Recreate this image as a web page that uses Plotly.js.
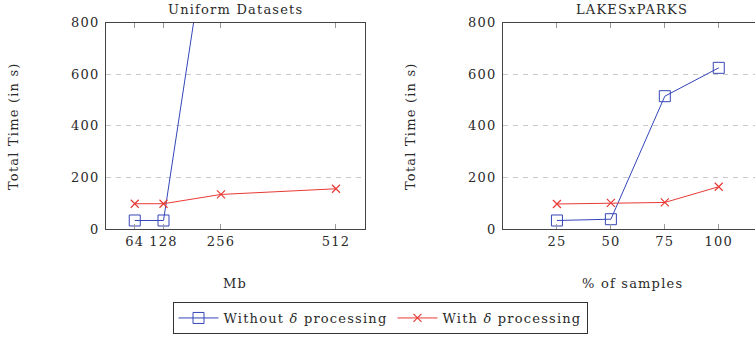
<!DOCTYPE html>
<html>
<head>
<meta charset="utf-8">
<script src="https://cdn.plot.ly/plotly-3.0.1.min.js"></script>
<style>
  html, body { margin: 0; padding: 0; background: #fff; overflow: hidden; }
  #chart { width: 755px; height: 339px; }
  svg text { letter-spacing: 1.2px; }
</style>
</head>
<body>
<div id="chart"></div>
<script>
// Left panel: Uniform Datasets
const uniformSizesMb = [64, 128, 256, 512];
const uniformWithout = [33, 33, 1500, 6000];
const uniformWith = [98, 98, 134, 156];

// Right panel: LAKESxPARKS
const samplePercents = [25, 50, 75, 100];
const lakesWithout = [33, 38, 515, 625];
const lakesWith = [97, 101, 103, 164];

const leftTitle = 'Uniform Datasets';
const rightTitle = 'LAKESxPARKS';
const leftXTitle = 'Mb';
const rightXTitle = '% of samples';
const yTitle = 'Total Time (in s)';
const seriesNames = ['Without <i>δ</i> processing', 'With <i>δ</i> processing'];
const yTicks = [0, 200, 400, 600, 800];

const BLUE = '#3446b8';
const RED = '#e83a35';
const FONT = 'DejaVu Serif, serif';
const FS = 13;
const TXT = '#2a2a2a';

const W = 755, H = 339;
const px = v => v / W;
const py = v => 1 - v / H;

const blueStyle = {
  mode: 'lines+markers',
  line: {color: BLUE, width: 1},
  marker: {symbol: 'square-open', size: 11, color: BLUE, line: {width: 1, color: BLUE}}
};
const redStyle = {
  mode: 'lines+markers',
  line: {color: RED, width: 1},
  marker: {symbol: 'x-thin-open', size: 8, color: RED, line: {width: 1.2, color: RED}}
};

const traces = [
  Object.assign({x: uniformSizesMb, y: uniformWithout, name: seriesNames[0], xaxis: 'x', yaxis: 'y', showlegend: true}, blueStyle),
  Object.assign({x: uniformSizesMb, y: uniformWith, name: seriesNames[1], xaxis: 'x', yaxis: 'y', showlegend: true}, redStyle),
  Object.assign({x: samplePercents, y: lakesWithout, name: seriesNames[0], xaxis: 'x2', yaxis: 'y2', showlegend: false}, blueStyle),
  Object.assign({x: samplePercents, y: lakesWith, name: seriesNames[1], xaxis: 'x2', yaxis: 'y2', showlegend: false}, redStyle)
];

const tickFont = {family: FONT, size: FS, color: TXT};

function xAxis(domain, range, ticks, anchor) {
  return {
    domain: domain, range: range, anchor: anchor,
    tickvals: ticks, ticktext: ticks.map(String),
    ticks: 'inside', ticklen: 5, tickcolor: '#999', tickwidth: 1,
    showline: true, linecolor: '#444', linewidth: 1, mirror: 'ticks',
    showgrid: false, zeroline: false,
    tickfont: tickFont, fixedrange: true
  };
}
function yAxis(domain, anchor, mirror) {
  return {
    domain: domain, range: [0, 800], anchor: anchor,
    tickvals: yTicks, ticktext: yTicks.map(String),
    ticks: '', showline: true, linecolor: '#444', linewidth: 1, mirror: mirror,
    showgrid: true, gridcolor: '#c8c8c8', gridwidth: 1, griddash: '5px,5px',
    zeroline: false, tickfont: tickFont, fixedrange: true,
    ticklabelstandoff: 3
  };
}

const yDom = [py(229), py(22.7)];
const leftDom = [px(106), px(365)];
const rightDom = [px(503), 1];

const ann = (text, x, y, opts) => Object.assign({
  text: text, x: x, y: y, xref: 'paper', yref: 'paper',
  showarrow: false, xanchor: 'center', yanchor: 'middle',
  font: {family: FONT, size: FS, color: TXT}
}, opts || {});

const layout = {
  width: W, height: H,
  margin: {l: 0, r: 0, t: 0, b: 0},
  paper_bgcolor: '#fff', plot_bgcolor: '#fff',
  xaxis: xAxis(leftDom, [0, 576.6], uniformSizesMb, 'y'),
  yaxis: yAxis(yDom, 'x', true),
  xaxis2: xAxis(rightDom, [0, 116.8], samplePercents, 'y2'),
  yaxis2: yAxis(yDom, 'x2', false),
  showlegend: true,
  legend: {
    orientation: 'h', x: px(380), xanchor: 'center', y: py(302), yanchor: 'top',
    bordercolor: '#333', borderwidth: 1, bgcolor: '#fff',
    font: {family: FONT, size: FS, color: TXT},
    itemwidth: 40
  },
  annotations: [
    ann(leftTitle, px(236), py(10)),
    ann(rightTitle, px(632), py(10)),
    ann(leftXTitle, px(235), py(283)),
    ann(rightXTitle, px(632), py(283)),
    ann(yTitle, px(13), py(126), {textangle: -90}),
    ann(yTitle, px(410), py(126), {textangle: -90})
  ]
};

Plotly.newPlot('chart', traces, layout, {staticPlot: true, displayModeBar: false});
</script>
</body>
</html>
